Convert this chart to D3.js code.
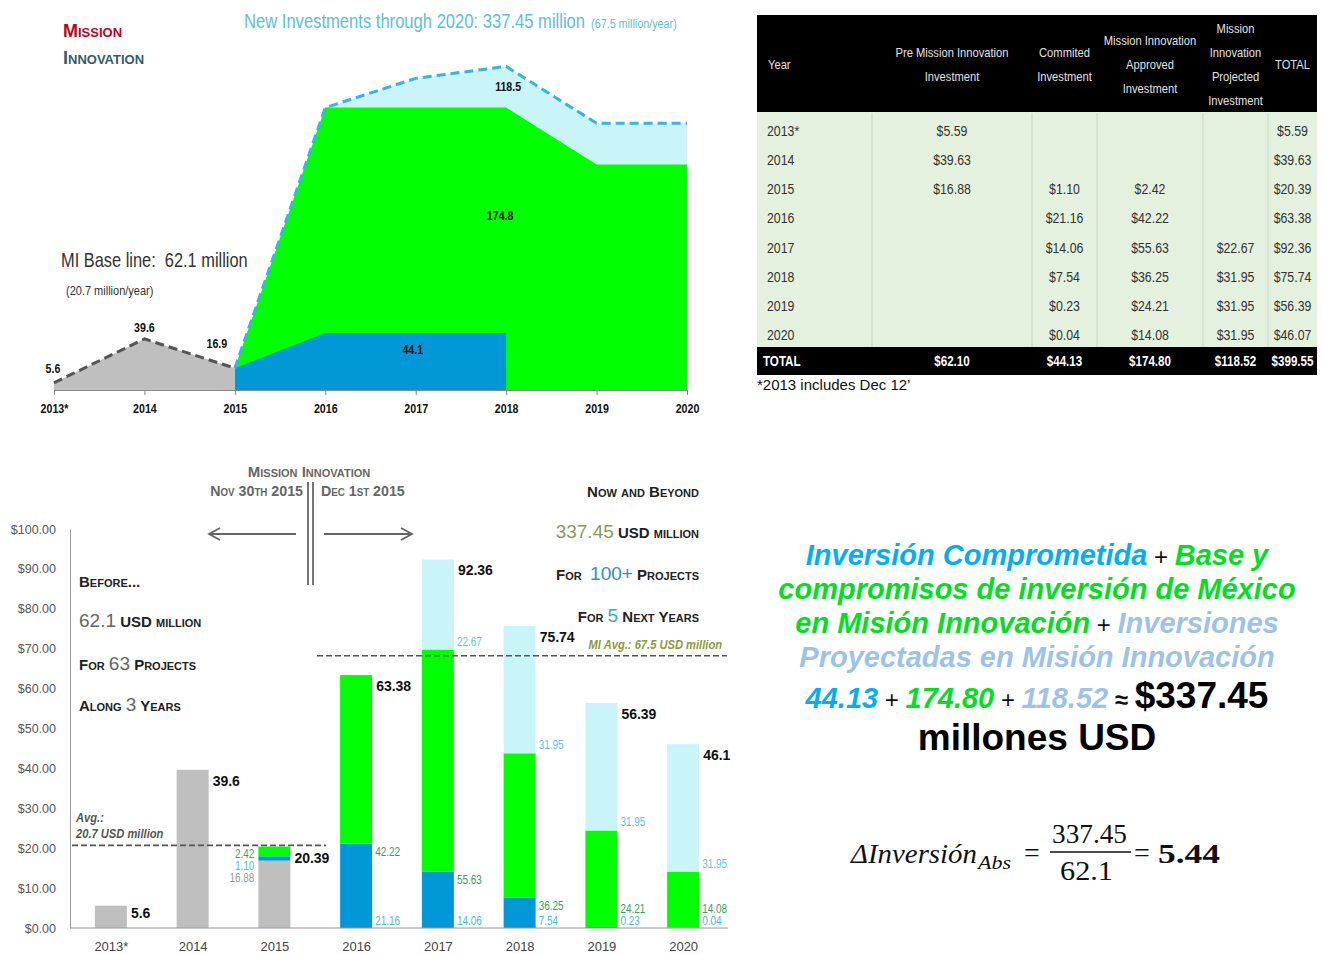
<!DOCTYPE html>
<html><head><meta charset="utf-8">
<script src="https://cdn.jsdelivr.net/npm/d3@7"></script>
<style>
body{margin:0;background:#fff;}
svg{display:block;background:#fff;}
</style></head><body>
<svg id="c" width="1323" height="954"></svg>
<script>
// ---------------- DATA ----------------
const years = ["2013*","2014","2015","2016","2017","2018","2019","2020"];
const preMI     = [5.59,39.63,16.88,null,null,null,null,null];
const committed = [null,null,1.10,21.16,14.06,7.54,0.23,0.04];
const approved  = [null,null,2.42,42.22,55.63,36.25,24.21,14.08];
const projected = [null,null,null,null,22.67,31.95,31.95,31.95];
const totals    = [5.59,39.63,20.39,63.38,92.36,75.74,56.39,46.07];
const totalLabels = ["5.6","39.6","20.39","63.38","92.36","75.74","56.39","46.1"];
const tableTotals = ["$62.10","$44.13","$174.80","$118.52","$399.55"];
const tableHeaders = [["Year"],["Pre Mission Innovation","Investment"],["Commited","Investment"],
  ["Mission Innovation","Approved","Investment"],["Mission","Innovation","Projected","Investment"],["TOTAL"]];
const yTicks = [0,10,20,30,40,50,60,70,80,90,100];
const baseAvg = 20.7, miAvg = 67.5;

// stylised cumulative view (top area chart)
const areaBase      = [5.6,39.6,16.9,null,null,null,null,null];
const areaCommitted = [null,null,16.9,44.1,44.1,44.1,null,null];
const areaApproved  = [null,null,0,174.8,174.8,174.8,174.8,174.8];
const areaProjected = [null,null,0,0,22.67,31.95,31.95,31.95];

// ---------------- SETUP ----------------
const ARIAL = '"Liberation Sans",Arial,sans-serif';
const C = {gray:"#bfbfbf", blue:"#0098d6", green:"#00ff00", light:"#c9f5f9"};
const svg = d3.select("#c");

// text with optional horizontal condensing (sx) to imitate a narrow face
function rich(x, y, anchor, parts, base, sx){
  const t = svg.append("text").attr("text-anchor",anchor);
  if(sx){ t.attr("transform",`translate(${x},${y}) scale(${sx},1)`); }
  else { t.attr("x",x).attr("y",y); }
  Object.entries(base||{}).forEach(([k,v])=>t.style(k,v));
  parts.forEach(p=>{
    const s = t.append("tspan").text(p.t);
    Object.entries(p.s||{}).forEach(([k,v])=>s.style(k,v));
  });
  return t;
}
const nt = (x,y,anchor,txt,base,sx)=>rich(x,y,anchor,[{t:txt}],Object.assign({"font-family":ARIAL},base),sx||0.83);

// ---------------- TOP AREA CHART ----------------
const xA = d3.scalePoint().domain(years).range([54,687]);
const yA = d3.scaleLinear().domain([0,260]).range([390,390-260*1.29]);
const idx = years.map((_,i)=>i);
const greenTop = i => (areaCommitted[i]||0) + (areaApproved[i]||0);
const totalTop = i => greenTop(i) + (areaProjected[i]||0);
const miIdx = idx.filter(i=>areaApproved[i]!==null);
const blIdx = idx.filter(i=>areaCommitted[i]!==null);
const grIdx = idx.filter(i=>areaBase[i]!==null);
const areaOf = f => d3.area().x(i=>xA(years[i])).y0(yA(0)).y1(i=>yA(f(i)));
const lineOf = f => d3.line().x(i=>xA(years[i])).y(i=>yA(f(i)));

svg.append("path").datum(miIdx).attr("d",areaOf(totalTop)).attr("fill",C.light);
svg.append("path").datum(miIdx).attr("d",areaOf(greenTop)).attr("fill",C.green);
svg.append("path").datum(blIdx).attr("d",areaOf(i=>areaCommitted[i])).attr("fill",C.blue);
svg.append("path").datum(grIdx).attr("d",areaOf(i=>areaBase[i])).attr("fill",C.gray);
svg.append("path").datum(grIdx).attr("d",lineOf(i=>areaBase[i])).attr("fill","none")
  .attr("stroke","#555").attr("stroke-width",3).attr("stroke-dasharray","9,5");
svg.append("path").datum(miIdx).attr("d",lineOf(totalTop)).attr("fill","none")
  .attr("stroke","#3cb2e4").attr("stroke-width",3).attr("stroke-dasharray","9,5");

const axA = svg.append("g").attr("transform","translate(0,390)")
  .call(d3.axisBottom(xA).tickSize(5).tickSizeOuter(0).tickPadding(9));
axA.select(".domain").attr("stroke","#888");
axA.selectAll(".tick line").attr("stroke","#888");
axA.selectAll("text").attr("transform","scale(0.82,1)").style("font-family",ARIAL).style("font-size","13px").style("font-weight","bold").attr("fill","#111");

const lblS = {"font-size":"12.5px","font-weight":"bold",fill:"#111"};
nt(xA(years[0])-1, yA(areaBase[0])-10, "middle", String(areaBase[0]), lblS, 0.85);
nt(xA(years[1]), yA(areaBase[1])-7, "middle", String(areaBase[1]), lblS, 0.85);
nt(xA(years[2])-18, yA(areaBase[2])-20, "middle", String(areaBase[2]), lblS, 0.85);
nt(xA(years[4])-3, yA(28), "middle", String(areaCommitted[4]), lblS, 0.85);
nt(xA(years[5])-6, yA(132), "middle", String(areaApproved[5]), lblS, 0.85);
nt(xA(years[5])+2, yA(232), "middle", "118.5", lblS, 0.85);

rich(63,37,"start",[{t:"Mission"}],{"font-family":ARIAL,"font-size":"18px","font-weight":"bold","font-variant":"small-caps",fill:"#c4001c"});
rich(63,64,"start",[{t:"Innovation"}],{"font-family":ARIAL,"font-size":"18px","font-weight":"bold","font-variant":"small-caps",fill:"#2c5f6e"});
rich(244,28,"start",[{t:"New Investments through 2020: 337.45 million"},{t:"\u00a0\u00a0(67.5 million/year)",s:{"font-size":"13px"}}],
  {"font-family":ARIAL,"font-size":"20px",fill:"#5bbfe2"},0.83);
rich(61,267,"start",[{t:"MI Base line:\u00a0\u00a062.1 million"}],{"font-family":ARIAL,"font-size":"20.5px",fill:"#333"},0.8);
rich(66,295,"start",[{t:"(20.7 million/year)"}],{"font-family":ARIAL,"font-size":"12.5px",fill:"#333"},0.88);

// ---------------- TABLE ----------------
const colX = [757,872,1032,1097,1203,1268,1317];
const rowY = d3.scalePoint().domain(years).range([131,335]);
svg.append("rect").attr("x",colX[0]).attr("y",15).attr("width",colX[6]-colX[0]).attr("height",97).attr("fill","#000");
svg.append("rect").attr("x",colX[0]).attr("y",112).attr("width",colX[6]-colX[0]).attr("height",235).attr("fill","#e3f1de");
svg.append("rect").attr("x",colX[0]).attr("y",347).attr("width",colX[6]-colX[0]).attr("height",28).attr("fill","#000");
colX.slice(1,6).forEach(x=>svg.append("line").attr("x1",x).attr("x2",x).attr("y1",113).attr("y2",347).attr("stroke","#c6dbbf"));
tableHeaders.forEach((lines,c)=>{
  const cx = c===0 ? 768 : (colX[c]+colX[c+1])/2;
  const n = lines.length;
  lines.forEach((ln,k)=>{
    nt(cx, 64+(k-(n-1)/2)*24+4.5, c===0?"start":"middle", ln, {"font-size":"13px",fill:"#e2e2e2"}, 0.86);
  });
});
const fmt = v => (v===null ? "" : "$"+v.toFixed(2));
const cols = [preMI, committed, approved, projected, totals];
const cellS = {"font-size":"14.5px",fill:"#333"};
years.forEach((yr,r)=>{
  const y = rowY(yr)+5;
  nt(767, y, "start", yr, cellS, 0.85);
  cols.forEach((arr,c)=>{
    if(arr[r]!==null) nt((colX[c+1]+colX[c+2])/2, y, "middle", fmt(arr[r]), cellS, 0.85);
  });
});
const totS = {"font-size":"14.5px","font-weight":"bold",fill:"#fff"};
nt(763, 366, "start", "TOTAL", totS, 0.8);
tableTotals.forEach((t,c)=>nt((colX[c+1]+colX[c+2])/2, 366, "middle", t, totS, 0.8));
rich(757,390,"start",[{t:"*2013 includes Dec 12’"}],{"font-family":ARIAL,"font-size":"15px",fill:"#111"});

// ---------------- BOTTOM BAR CHART ----------------
const xB = d3.scalePoint().domain(years).range([70,724]).padding(0.5);
const yB = d3.scaleLinear().domain([0,100]).range([928,529]);
const bw = 32;
const rows = years.map((y,i)=>({year:y, pre:preMI[i]||0, committed:committed[i]||0, approved:approved[i]||0, projected:projected[i]||0}));
const keys = ["pre","committed","approved","projected"];
const fills = {pre:C.gray, committed:C.blue, approved:C.green, projected:C.light};
const stacked = d3.stack().keys(keys)(rows);

stacked.forEach(layer=>{
  svg.append("g").selectAll("rect").data(layer.filter(d=>d[1]-d[0]>0)).join("rect")
    .attr("x",d=>xB(d.data.year)-bw/2).attr("width",bw)
    .attr("y",d=>yB(d[1])).attr("height",d=>yB(d[0])-yB(d[1]))
    .attr("fill",fills[layer.key]);
});

const axY = svg.append("g").attr("transform","translate(70,0)")
  .call(d3.axisLeft(yB).tickValues(yTicks).tickFormat(d=>"$"+d.toFixed(2)).tickSize(0).tickPadding(14));
axY.select(".domain").attr("stroke","#999");
axY.selectAll("text").style("font-family",ARIAL).style("font-size","12.5px").attr("fill","#555");
const axX = svg.append("g").attr("transform","translate(0,928)")
  .call(d3.axisBottom(xB).tickSize(0).tickPadding(14));
axX.select(".domain").attr("stroke","#999").attr("d","M70,0H728");
axX.selectAll("text").style("font-family",ARIAL).style("font-size","13px").attr("fill","#444");

// avg dashed lines
svg.append("line").attr("x1",72).attr("x2",326).attr("y1",yB(baseAvg)).attr("y2",yB(baseAvg))
  .attr("stroke","#555").attr("stroke-width",1.6).attr("stroke-dasharray","6,3");
svg.append("line").attr("x1",317).attr("x2",727).attr("y1",yB(miAvg)-3).attr("y2",yB(miAvg)-3)
  .attr("stroke","#555").attr("stroke-width",1.6).attr("stroke-dasharray","6,3");

// total labels
years.forEach((y,i)=>{
  svg.append("text").attr("x",xB(y)+bw/2+4).attr("y",Math.min(yB(totals[i])+16, yB(0)-10))
    .style("font-family",ARIAL).style("font-size","14px").style("font-weight","bold").attr("fill","#111").text(totalLabels[i]);
});
// segment labels
const seg = (x,y,anchor,txt,c)=>nt(x,y,anchor,txt,{"font-size":"12px",fill:c},0.83);
years.forEach((y,i)=>{
  if(i<2) return;
  const bt = yB((preMI[i]||0)+(committed[i]||0));
  const gt = yB((preMI[i]||0)+(committed[i]||0)+(approved[i]||0));
  if(i===2){
    const xr = xB(y)-bw/2-4;
    seg(xr, gt+11, "end", approved[i].toFixed(2), "#35a85a");
    seg(xr, gt+23, "end", committed[i].toFixed(2), "#45bde6");
    seg(xr, gt+35, "end", preMI[i].toFixed(2), "#999");
    return;
  }
  const xl = xB(y)+bw/2+3;
  seg(xl, yB(0)-3, "start", committed[i].toFixed(2), "#45bde6");
  seg(xl, Math.min(bt+12, yB(0)-15), "start", approved[i].toFixed(2), "#35a060");
  if(projected[i]!==null) seg(xl, gt-4, "start", projected[i].toFixed(2), "#5cc4ec");
});

// annotations
const ital = {"font-family":ARIAL,"font-size":"12px","font-weight":"bold","font-style":"italic"};
rich(76,822,"start",[{t:"Avg.:"}],Object.assign({fill:"#555"},ital),0.93);
rich(76,838,"start",[{t:"20.7 USD million"}],Object.assign({fill:"#555"},ital),0.93);
rich(722,649,"end",[{t:"MI Avg.: 67.5 USD million"}],Object.assign({fill:"#8c9a3c"},ital),0.93);

const sc = {"font-family":ARIAL,"font-size":"15px","font-weight":"bold","font-variant":"small-caps",fill:"#222"};
const big = c=>({"font-weight":"normal","font-size":"19px","font-variant":"normal",fill:c});
rich(79,587,"start",[{t:"Before..."}],sc);
rich(79,627,"start",[{t:"62.1",s:big("#666")},{t:" USD million"}],sc);
rich(79,670,"start",[{t:"For "},{t:"63",s:big("#666")},{t:" Projects"}],sc);
rich(79,711,"start",[{t:"Along "},{t:"3",s:big("#666")},{t:" Years"}],sc);

rich(699,497,"end",[{t:"Now and Beyond"}],sc);
rich(699,538,"end",[{t:"337.45",s:big("#8a9a55")},{t:" USD million"}],sc);
rich(699,580,"end",[{t:"For\u00a0\u00a0"},{t:"100+",s:big("#2a93c4")},{t:" Projects"}],sc);
rich(699,622,"end",[{t:"For "},{t:"5",s:big("#3aa7c8")},{t:" Next Years"}],sc);

const hd = {"font-family":ARIAL,"font-size":"15px","font-weight":"bold","font-variant":"small-caps",fill:"#666"};
rich(309,477,"middle",[{t:"Mission Innovation"}],hd);
rich(303,496,"end",[{t:"Nov 30th 2015"}],hd,0.95);
rich(321,496,"start",[{t:"Dec 1st 2015"}],hd,0.95);
[308,313].forEach(x=>svg.append("line").attr("x1",x).attr("x2",x).attr("y1",482).attr("y2",585).attr("stroke","#666").attr("stroke-width",1.8));
svg.append("path").attr("d","M296,534H209M220,528L209,534L220,540").attr("fill","none").attr("stroke","#666").attr("stroke-width",1.8);
svg.append("path").attr("d","M324,534H412M401,528L412,534L401,540").attr("fill","none").attr("stroke","#666").attr("stroke-width",1.8);

// ---------------- RIGHT TEXT ----------------
const sp = {"font-family":ARIAL,"font-size":"29px","font-weight":"bold","font-style":"italic"};
const cBlue="#00b0f0", cGreen="#00e020", cLight="#9dc3e6";
const plus = {"font-style":"normal",fill:"#111","font-size":"24px","font-weight":"normal"};
rich(1037,565,"middle",[{t:"Inversión Comprometida",s:{fill:cBlue}},{t:" + ",s:plus},{t:"Base y",s:{fill:cGreen}}],sp);
rich(1037,599,"middle",[{t:"compromisos de inversión de México",s:{fill:cGreen}}],sp);
rich(1037,633,"middle",[{t:"en Misión Innovación",s:{fill:cGreen}},{t:" + ",s:plus},{t:"Inversiones",s:{fill:cLight}}],sp);
rich(1037,667,"middle",[{t:"Proyectadas en Misión Innovación",s:{fill:cLight}}],sp);
rich(1037,708,"middle",[{t:"44.13",s:{fill:cBlue}},{t:" + ",s:plus},{t:"174.80",s:{fill:cGreen}},{t:" + ",s:plus},
  {t:"118.52",s:{fill:cLight}},{t:" ≈ ",s:Object.assign({},plus,{"font-weight":"bold"})},{t:"$337.45",s:{"font-style":"normal",fill:"#000","font-size":"37px"}}],sp);
rich(1037,750,"middle",[{t:"millones USD"}],{"font-family":ARIAL,"font-size":"37px","font-weight":"bold",fill:"#000"});

// formula
const ser = '"Liberation Serif","DejaVu Serif",serif';
svg.append("text").attr("x",851).attr("y",863).attr("textLength",126).attr("lengthAdjust","spacingAndGlyphs")
  .style("font-family",ser).style("font-size","27px").style("font-style","italic").attr("fill","#111").text("ΔInversión");
svg.append("text").attr("x",978).attr("y",869).attr("textLength",33).attr("lengthAdjust","spacingAndGlyphs")
  .style("font-family",ser).style("font-size","18px").style("font-style","italic").attr("fill","#111").text("Abs");
rich(1032,862,"middle",[{t:"="}],{"font-family":ser,"font-size":"28px",fill:"#111"});
svg.append("text").attr("x",1052).attr("y",843).attr("textLength",75).attr("lengthAdjust","spacingAndGlyphs")
  .style("font-family",ser).style("font-size","27px").attr("fill","#111").text("337.45");
svg.append("line").attr("x1",1050).attr("x2",1131).attr("y1",852).attr("y2",852).attr("stroke","#111").attr("stroke-width",1.4);
svg.append("text").attr("x",1060).attr("y",880).attr("textLength",53).attr("lengthAdjust","spacingAndGlyphs")
  .style("font-family",ser).style("font-size","27px").attr("fill","#111").text("62.1");
rich(1142,862,"middle",[{t:"="}],{"font-family":ser,"font-size":"28px",fill:"#111"});
svg.append("text").attr("x",1158).attr("y",863).attr("textLength",62).attr("lengthAdjust","spacingAndGlyphs")
  .style("font-family",ser).style("font-size","27px").style("font-weight","bold").attr("fill","#111").text("5.44");
</script>
</body></html>
